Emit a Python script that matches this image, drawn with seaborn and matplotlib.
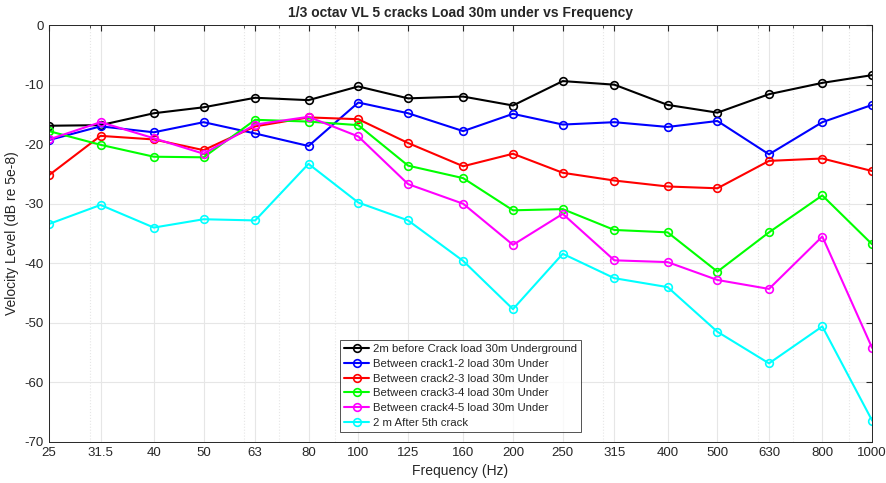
import numpy as np
import pandas as pd
import matplotlib
matplotlib.use("Agg")
import matplotlib.pyplot as plt
import seaborn as sns
from matplotlib.ticker import FixedLocator, LogLocator, NullFormatter

freqs = [25, 31.5, 40, 50, 63, 80, 100, 125, 160, 200, 250, 315, 400, 500, 630, 800, 1000]
freq_labels = ["25", "31.5", "40", "50", "63", "80", "100", "125", "160", "200",
               "250", "315", "400", "500", "630", "800", "1000"]

before_crack = [-16.9, -16.8, -14.8, -13.8, -12.2, -12.6, -10.3, -12.3, -12.0, -13.5,
                -9.4, -10.0, -13.4, -14.7, -11.6, -9.7, -8.4]
crack1_2 = [-19.3, -17.0, -18.0, -16.3, -18.2, -20.3, -13.0, -14.8, -17.8, -14.9,
            -16.7, -16.3, -17.1, -16.1, -21.7, -16.3, -13.4]
crack2_3 = [-25.2, -18.6, -19.2, -21.0, -17.0, -15.5, -15.8, -19.8, -23.7, -21.6,
            -24.8, -26.1, -27.1, -27.4, -22.8, -22.4, -24.5]
crack3_4 = [-17.8, -20.1, -22.1, -22.2, -15.9, -16.2, -16.8, -23.6, -25.7, -31.1,
            -30.9, -34.4, -34.8, -41.4, -34.8, -28.6, -36.8]
crack4_5 = [-19.2, -16.3, -19.0, -21.6, -16.7, -15.4, -18.7, -26.7, -30.0, -36.9,
            -31.7, -39.5, -39.8, -42.8, -44.3, -35.5, -54.2]
after_5th = [-33.4, -30.2, -34.0, -32.6, -32.8, -23.3, -29.8, -32.8, -39.6, -47.7,
             -38.4, -42.5, -44.0, -51.5, -56.8, -50.6, -66.4]

series_names = ["2m before Crack load 30m Underground",
                "Between crack1-2 load 30m Under",
                "Between crack2-3 load 30m Under",
                "Between crack3-4 load 30m Under",
                "Between crack4-5 load 30m Under",
                "2 m After 5th crack"]
series_values = [before_crack, crack1_2, crack2_3, crack3_4, crack4_5, after_5th]
series_colors = ["#000000", "#0000ff", "#ff0000", "#00ff00", "#ff00ff", "#00ffff"]

sns.set_style("white")
plt.rcParams["font.family"] = ["Liberation Sans", "DejaVu Sans"]
plt.rcParams["axes.unicode_minus"] = False

fig = plt.figure(figsize=(8.87, 4.83), dpi=100)
ax = fig.add_axes([0.0552, 0.085, 0.928, 0.863])

for name, vals, col in zip(series_names, series_values, series_colors):
    df = pd.DataFrame({"Frequency": freqs, "Level": vals})
    sns.lineplot(data=df, x="Frequency", y="Level", ax=ax, color=col, marker="o",
                 markersize=5.5, markerfacecolor="none", markeredgecolor=col,
                 markeredgewidth=1.2, linewidth=1.5, label=name)

ax.set_xscale("log")
ax.set_xlim(25, 1000)
ax.set_ylim(-70, 0)
ax.xaxis.set_major_locator(FixedLocator(freqs))
ax.set_xticklabels(freq_labels)
ax.xaxis.set_minor_locator(LogLocator(base=10, subs=np.arange(2, 10)))
ax.xaxis.set_minor_formatter(NullFormatter())
ax.set_yticks(np.arange(-70, 1, 10))

ax.grid(True, which="major", color="#e6e6e6", linewidth=0.8, linestyle="-")
ax.grid(True, which="minor", axis="x", color="#e6e6e6", linewidth=0.8, linestyle=":")
ax.set_axisbelow(True)

ax.tick_params(which="both", direction="in", top=True, right=True, colors="#262626",
               labelsize=9.5)
ax.tick_params(which="major", length=4)
ax.tick_params(which="minor", length=2)
for sp in ax.spines.values():
    sp.set_color("#262626")
    sp.set_linewidth(0.7)

ax.set_xlabel("Frequency (Hz)", fontsize=10, color="#262626")
ax.set_ylabel("Velocity Level (dB re 5e-8)", fontsize=10, color="#262626")
ax.set_title("1/3 octav VL 5 cracks Load 30m under vs Frequency", fontsize=10,
             fontweight="bold", pad=6)

leg = ax.legend(loc="lower left", bbox_to_anchor=(0.354, 0.024), fontsize=8.2,
                frameon=True, fancybox=False, borderpad=0.35, labelspacing=0.42,
                handlelength=2.2, handletextpad=0.3, borderaxespad=0)
leg.get_frame().set_edgecolor("#262626")
leg.get_frame().set_linewidth(0.7)

fig.savefig("out.png", dpi=100)
